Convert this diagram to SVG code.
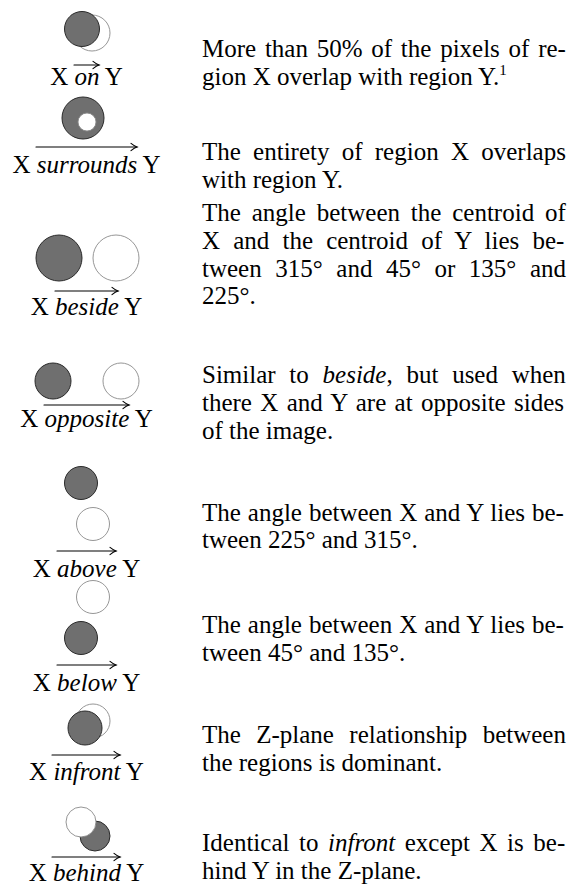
<svg xmlns="http://www.w3.org/2000/svg" width="579" height="886" viewBox="0 0 579 886">
<style>
text{font-family:"Liberation Serif","Times New Roman",serif;font-size:25px;fill:#000}
.lab{text-anchor:middle}
.it{font-style:italic}
.dk{fill:#6f6f6f;stroke:#2a2a2a;stroke-width:1}
.wt{fill:#fff;stroke:#8a8a8a;stroke-width:0.9}
.ar{fill:none;stroke:#000;stroke-width:1.1;stroke-linecap:round}
.sup{font-size:15px}
</style>
<rect width="579" height="886" fill="#fff"/>
<defs>
<path id="hd" d="M-6,-3.6 Q-2.5,-0.8 0,0 Q-2.5,0.8 -6,3.6" class="ar"/>
</defs>

<g id="node-on">
<circle class="wt" cx="92" cy="33" r="18"/>
<circle class="dk" cx="82" cy="29" r="17.5"/>
<text class="lab" x="86.5" y="85">X <tspan class="it">on</tspan> Y</text>
</g>
<g id="node-surrounds">
<circle class="dk" cx="83" cy="118" r="21"/>
<circle class="wt" cx="87" cy="122" r="9" stroke="#333"/>
<text class="lab" x="86.5" y="173">X <tspan class="it">surrounds</tspan> Y</text>
</g>
<g id="node-beside">
<circle class="dk" cx="59" cy="258" r="23"/>
<circle class="wt" cx="116" cy="258" r="23"/>
<text class="lab" x="86.5" y="315">X <tspan class="it">beside</tspan> Y</text>
</g>
<g id="node-opposite">
<circle class="dk" cx="53" cy="381" r="18"/>
<circle class="wt" cx="121" cy="381" r="18"/>
<text class="lab" x="86.5" y="427">X <tspan class="it">opposite</tspan> Y</text>
</g>
<g id="node-above">
<circle class="dk" cx="81" cy="483" r="16.5"/>
<circle class="wt" cx="93" cy="524" r="16.5"/>
<text class="lab" x="86.5" y="577">X <tspan class="it">above</tspan> Y</text>
</g>
<g id="node-below">
<circle class="wt" cx="93" cy="597" r="16.5"/>
<circle class="dk" cx="81" cy="638" r="16.5"/>
<text class="lab" x="86.5" y="691">X <tspan class="it">below</tspan> Y</text>
</g>
<g id="node-infront">
<circle class="wt" cx="93" cy="721" r="17"/>
<circle class="dk" cx="85" cy="728" r="17"/>
<text class="lab" x="86.5" y="780">X <tspan class="it">infront</tspan> Y</text>
</g>
<g id="node-behind">
<circle class="dk" cx="95" cy="836" r="15"/>
<circle class="wt" cx="81" cy="822" r="15" stroke="#333"/>
<text class="lab" x="86.5" y="881">X <tspan class="it">behind</tspan> Y</text>
</g>

<g id="connectors">
<line class="ar" x1="74" y1="65" x2="99" y2="65"/><use href="#hd" x="99" y="65"/>
<line class="ar" x1="36" y1="147" x2="137" y2="147"/><use href="#hd" x="137" y="147"/>
<line class="ar" x1="55" y1="291" x2="118" y2="291"/><use href="#hd" x="118" y="291"/>
<line class="ar" x1="44" y1="405" x2="129" y2="405"/><use href="#hd" x="129" y="405"/>
<line class="ar" x1="57" y1="551" x2="116" y2="551"/><use href="#hd" x="116" y="551"/>
<line class="ar" x1="57" y1="665" x2="116" y2="665"/><use href="#hd" x="116" y="665"/>
<line class="ar" x1="52" y1="755" x2="120" y2="755"/><use href="#hd" x="120" y="755"/>
<line class="ar" x1="52" y1="857" x2="120" y2="857"/><use href="#hd" x="120" y="857"/>
</g>

<g id="descriptions">
<text x="202" y="57" word-spacing="2.5">More than 50% of the pixels of re-</text>
<text x="202" y="85">gion X overlap with region Y.<tspan class="sup" dy="-10">1</tspan></text>

<text x="202" y="160" word-spacing="6">The entirety of region X overlaps</text>
<text x="202" y="188">with region Y.</text>

<text x="202" y="221" word-spacing="4.6">The angle between the centroid of</text>
<text x="202" y="249" word-spacing="6.9">X and the centroid of Y lies be-</text>
<text x="202" y="277" word-spacing="7.3">tween 315° and 45° or 135° and</text>
<text x="202" y="304">225°.</text>

<text x="202" y="383" word-spacing="7.5">Similar to <tspan class="it">beside</tspan>, but used when</text>
<text x="202" y="411" word-spacing="2.1">there X and Y are at opposite sides</text>
<text x="202" y="439">of the image.</text>

<text x="202" y="521" word-spacing="0.7">The angle between X and Y lies be-</text>
<text x="202" y="548">tween 225° and 315°.</text>

<text x="202" y="633" word-spacing="0.7">The angle between X and Y lies be-</text>
<text x="202" y="661">tween 45° and 135°.</text>

<text x="202" y="743" word-spacing="9.1">The Z-plane relationship between</text>
<text x="202" y="771">the regions is dominant.</text>

<text x="202" y="851" word-spacing="3.3">Identical to <tspan class="it">infront</tspan> except X is be-</text>
<text x="202" y="879">hind Y in the Z-plane.</text>
</g>
</svg>
